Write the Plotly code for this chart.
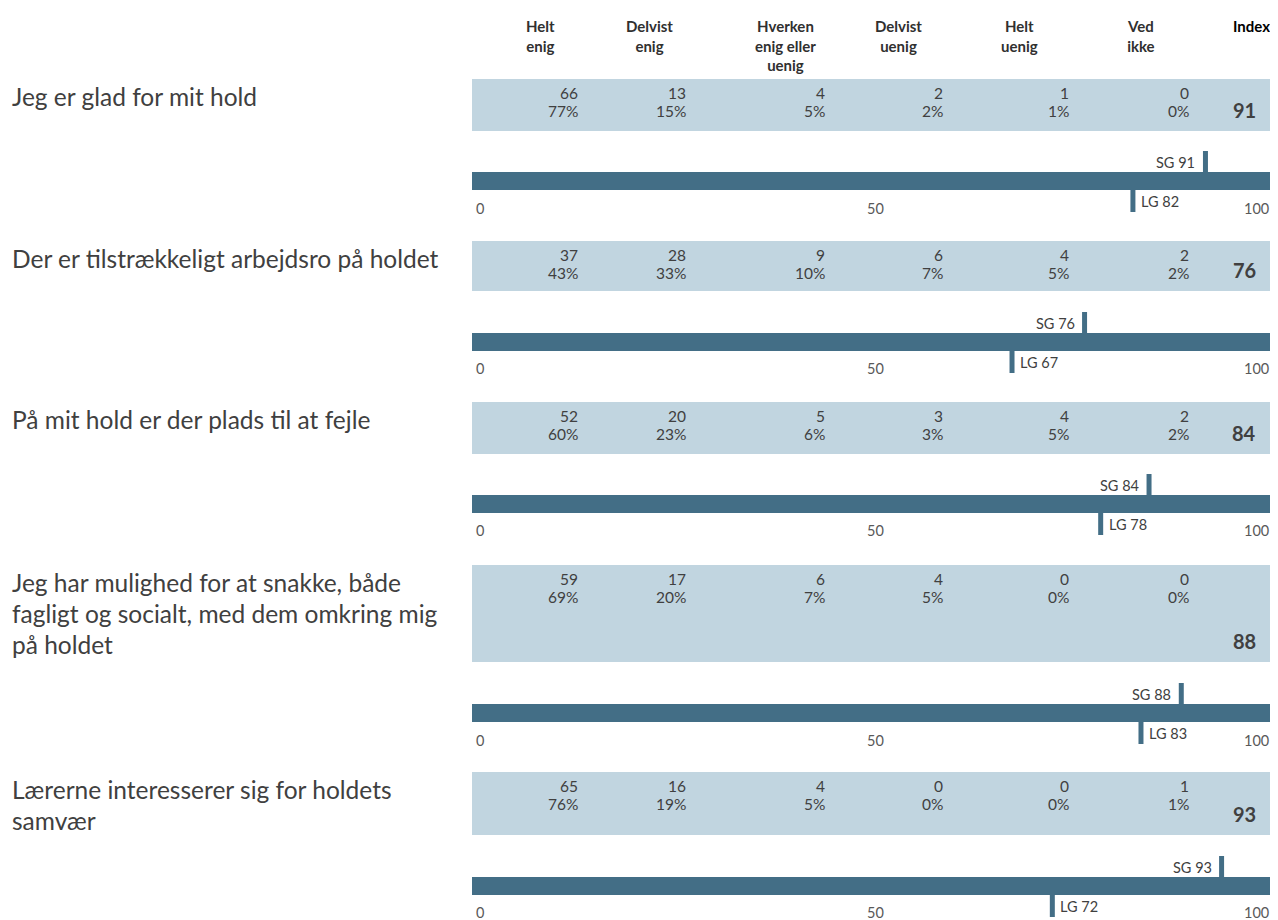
import plotly.graph_objects as go

# ---------------- data ----------------
questions = [
    "Jeg er glad for mit hold",
    "Der er tilstrækkeligt arbejdsro på holdet",
    "På mit hold er der plads til at fejle",
    "Jeg har mulighed for at snakke, både\nfagligt og socialt, med dem omkring mig\npå holdet",
    "Lærerne interesserer sig for holdets\nsamvær",
]
columns = ["Helt<br>enig", "Delvist<br>enig", "Hverken<br>enig eller<br>uenig",
           "Delvist<br>uenig", "Helt<br>uenig", "Ved<br>ikke"]
index_label = "Index"
counts = [
    [66, 13, 4, 2, 1, 0],
    [37, 28, 9, 6, 4, 2],
    [52, 20, 5, 3, 4, 2],
    [59, 17, 6, 4, 0, 0],
    [65, 16, 4, 0, 0, 1],
]
percents = [
    [77, 15, 5, 2, 1, 0],
    [43, 33, 10, 7, 5, 2],
    [60, 23, 6, 3, 5, 2],
    [69, 20, 7, 5, 0, 0],
    [76, 19, 5, 0, 0, 1],
]
index_values = [91, 76, 84, 88, 93]
sg_values = [91, 76, 84, 88, 93]
lg_values = [82, 67, 78, 83, 72]
scale_max = [100, 100, 100, 100, 100]
tick_values = [0, 50, 100]

# ---------------- layout geometry (screen pixels) ----------------
OFF = 8                        # page body margin around the plot div
SW, SH = 1278, 920             # screen size
W, H = SW - OFF, SH - OFF      # figure size
X0 = 472                       # screen pixel where the 0..100 scale starts
PX_PER_UNIT = (SW - X0) / 100.0

def px2x(px):
    return (px - X0) / PX_PER_UNIT

def py(px):
    return px - OFF

band_top = [79, 241, 402, 565, 772]
band_bot = [131, 291, 454, 662, 835]
bar_top = [172, 333, 495, 704, 877]
BAR_H = 18
tick_y = [208, 368, 530, 740, 912]
col_right_px = [580, 688, 827, 945, 1071, 1191]
col_head_px = [540, 649, 785, 898, 1019, 1141]
index_head_px = 1251
index_px = 1244
HEAD_TOP = 15

TEXT = "#404040"
BAND = "#c1d5e0"
DARK = "#436e86"
FONT = "Lato"

fig = go.Figure()

# light bands (table background)
fig.add_trace(go.Bar(
    x=scale_max, base=0, orientation="h",
    y=[py((t + b) / 2) for t, b in zip(band_top, band_bot)],
    width=[b - t for t, b in zip(band_top, band_bot)],
    marker=dict(color=BAND, line=dict(width=0)), hoverinfo="skip", showlegend=False))

# dark scale bars
fig.add_trace(go.Bar(
    x=scale_max, base=0, orientation="h",
    y=[py(t + BAR_H / 2) for t in bar_top],
    width=[BAR_H] * len(bar_top),
    marker=dict(color=DARK, line=dict(width=0)), hoverinfo="skip", showlegend=False))

# SG / LG tick markers
sx, sy, lx, ly = [], [], [], []
for i in range(len(questions)):
    sx += [sg_values[i], sg_values[i], None]
    sy += [py(bar_top[i] - 21), py(bar_top[i] + 1), None]
    lx += [lg_values[i], lg_values[i], None]
    ly += [py(bar_top[i] + BAR_H - 1), py(bar_top[i] + BAR_H + 22), None]
fig.add_trace(go.Scatter(x=sx, y=sy, mode="lines", line=dict(color=DARK, width=5),
                         hoverinfo="skip", showlegend=False))
fig.add_trace(go.Scatter(x=lx, y=ly, mode="lines", line=dict(color=DARK, width=5),
                         hoverinfo="skip", showlegend=False))

ann = []
# column headers
for j, c in enumerate(columns):
    ann.append(dict(x=px2x(col_head_px[j]), y=py(HEAD_TOP), xref="x", yref="y",
                    text="<b>" + c + "</b>",
                    showarrow=False, xanchor="center", yanchor="top",
                    font=dict(family=FONT, size=15, color="#303030"),
                    align="center"))
ann.append(dict(x=px2x(index_head_px), y=py(HEAD_TOP), xref="x", yref="y",
                text="<b>" + index_label + "</b>",
                showarrow=False, xanchor="center", yanchor="top",
                font=dict(family=FONT, size=15, color="#000000")))

for i, q in enumerate(questions):
    # question text, each line placed separately
    for k, line in enumerate(q.split("\n")):
        ann.append(dict(x=(10 - OFF) / W, y=py(band_top[i] + 17 + 31 * k), xref="paper", yref="y",
                        text=line, showarrow=False, xanchor="left", yanchor="middle",
                        font=dict(family=FONT, size=24.5, color=TEXT)))
    # counts and percents
    for j in range(len(columns)):
        ann.append(dict(x=px2x(col_right_px[j]), y=py(band_top[i] + 14), xref="x", yref="y",
                        text=str(counts[i][j]), showarrow=False, xanchor="right",
                        yanchor="middle", font=dict(family=FONT, size=15.5, color=TEXT)))
        ann.append(dict(x=px2x(col_right_px[j]), y=py(band_top[i] + 32), xref="x", yref="y",
                        text=f"{percents[i][j]}%", showarrow=False, xanchor="right",
                        yanchor="middle", font=dict(family=FONT, size=15.5, color=TEXT)))
    # index
    ann.append(dict(x=px2x(index_px), y=py(band_bot[i] - 21), xref="x", yref="y",
                    text=f"<b>{index_values[i]}</b>", showarrow=False, xanchor="center",
                    yanchor="middle", font=dict(family=FONT, size=20, color=TEXT)))
    # SG / LG labels
    ann.append(dict(x=sg_values[i], y=py(bar_top[i] - 10), xref="x", yref="y",
                    text=f"SG {sg_values[i]}", showarrow=False, xanchor="right",
                    xshift=-8, yanchor="middle", font=dict(family=FONT, size=14.5, color=TEXT)))
    ann.append(dict(x=lg_values[i], y=py(bar_top[i] + BAR_H + 11), xref="x", yref="y",
                    text=f"LG {lg_values[i]}", showarrow=False, xanchor="left",
                    xshift=6, yanchor="middle", font=dict(family=FONT, size=14.5, color=TEXT)))
    # scale tick labels
    for tv in tick_values:
        anchor = "left" if tv == tick_values[0] else ("right" if tv == tick_values[-1] else "center")
        shift = 2 if anchor == "left" else (-7 if anchor == "right" else 0)
        ann.append(dict(x=tv, y=py(tick_y[i]), xref="x", yref="y", text=str(tv),
                        showarrow=False, xanchor=anchor, xshift=shift, yanchor="middle",
                        font=dict(family=FONT, size=14.5, color="#595959")))

fig.update_layout(
    width=W, height=H,
    margin=dict(l=0, r=0, t=0, b=0),
    paper_bgcolor="white", plot_bgcolor="white",
    barmode="overlay", bargap=0,
    xaxis=dict(range=[px2x(OFF), 100], visible=False, fixedrange=True),
    yaxis=dict(range=[H, 0], visible=False, fixedrange=True),
    annotations=ann,
)

fig.write_html("out.html")
